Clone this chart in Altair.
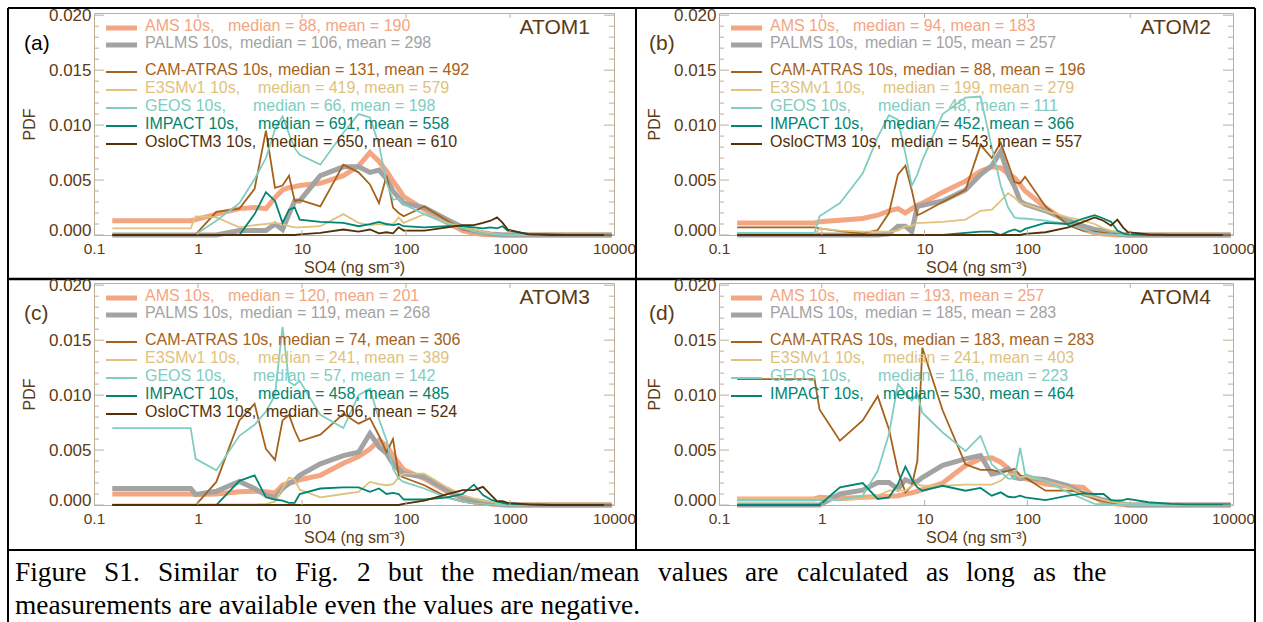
import altair as alt
import pandas as pd

# ---------------- data ----------------
X_BINS = [0.15, 0.25, 0.35, 0.45, 0.55, 0.65, 0.75, 0.85, 0.95,
          1.5, 2.5, 3.5, 4.5, 5.5, 6.5, 7.5, 8.5, 9.5,
          15, 25, 35, 45, 55, 65, 75, 85, 95,
          150, 250, 350, 450, 550, 650, 750, 850, 950,
          1500, 2500, 3500, 4500, 5500, 6500, 7500, 8500, 9500]

# PDF values, in units of 1e-3
ATOM1_AMS = [1.3, 1.3, 1.3, 1.3, 1.3, 1.3, 1.3, 1.3, 1.4,
             1.9, 2.4, 2.5, 2.4, 3.4, 4.1, 4.3, 4.4, 4.5,
             4.7, 5.4, 6.3, 7.5, 6.7, 5.8, 4.9, 4.2, 3.5,
             2.3, 1.1, 0.4, 0.15, 0.05, 0.02, 0, 0, 0,
             0, 0, 0, 0, 0, 0, 0, 0, 0]
ATOM1_PALMS = [0, 0, 0, 0, 0, 0, 0, 0, 0,
               0, 0.4, 0.4, 0.4, 1.0, 0.5, 1.9, 3.1, 3.1,
               5.4, 6.2, 6.2, 5.7, 5.9, 5.1, 4.0, 3.4, 2.9,
               2.5, 1.4, 0.7, 0.35, 0.2, 0.1, 0.05, 0, 0,
               0, 0, 0, 0, 0, 0, 0, 0, 0]
ATOM1_CAM = [0, 0, 0, 0, 0, 0, 0, 0, 0.05,
             2.1, 2.4, 4.2, 9.5, 4.3, 4.5, 5.4, 3.1, 3.2,
             2.6, 6.4, 5.7, 4.6, 2.9, 5.4, 2.5, 2.0, 1.7,
             2.6, 1.3, 0.5, 0.3, 0.2, 0.15, 0.1, 0.05, 0.03,
             0, 0, 0, 0, 0, 0, 0, 0, 0]
ATOM1_E3SM = [0.6, 0.6, 0.6, 0.6, 0.6, 0.6, 0.6, 0.6, 1.7,
              1.6, 0.7, 0.9, 1.0, 1.1, 1.0, 0.8, 0.7, 0.7,
              0.8, 1.9, 1.1, 0.9, 1.0, 0.9, 1.0, 1.6, 1.1,
              1.9, 1.1, 0.7, 0.5, 0.3, 0.2, 0.1, 0.05, 0.03,
              0, 0, 0, 0, 0, 0, 0, 0, 0]
ATOM1_GEOS = [0, 0, 0, 0, 0, 0, 0, 0, 0.05,
              1.3, 2.9, 5.1, 7.0, 9.6, 10.8, 9.2, 7.9, 7.3,
              6.4, 9.3, 11.0, 10.7, 8.2, 4.8, 3.2, 3.3, 2.8,
              1.9, 1.0, 0.6, 0.3, 0.15, 0.1, 0.05, 0.03, 0,
              0, 0, 0, 0, 0, 0, 0, 0, 0]
ATOM1_IMPACT = [0, 0, 0, 0, 0, 0, 0, 0, 0,
                0, 0, 1.9, 3.9, 3.1, 1.1, 2.3, 2.5, 1.4,
                1.2, 1.1, 0.8, 1.0, 1.2, 1.0, 0.9, 1.0, 0.8,
                0.7, 0.8, 0.8, 0.7, 0.6, 0.7, 0.6, 0.8, 0.4,
                0.1, 0.05, 0, 0, 0, 0, 0, 0, 0]
ATOM1_OSLO = [0, 0, 0, 0, 0, 0, 0, 0, 0,
              0, 0, 0, 0, 0, 0, 0, 0, 0.05,
              0.2, 0.5, 0.3, 0.5, 0.15, 0.25, 0.15, 0.7, 0.4,
              0.4, 0.7, 0.9, 0.9, 1.1, 1.3, 1.6, 1.1, 0.5,
              0.05, 0, 0, 0, 0, 0, 0, 0, 0]

ATOM2_AMS = [1.1, 1.1, 1.1, 1.1, 1.1, 1.1, 1.1, 1.1, 1.2,
             1.35, 1.5, 1.8, 2.2, 2.4, 2.0, 2.4, 2.7, 2.9,
             3.9, 4.9, 5.8, 6.2, 6.1, 5.6, 5.2, 4.6, 4.0,
             2.5, 1.1, 0.5, 0.2, 0.1, 0.05, 0, 0, 0,
             0, 0, 0, 0, 0, 0, 0, 0, 0]
ATOM2_PALMS = [0, 0, 0, 0, 0, 0, 0, 0, 0,
               0, 0, 0, 0.1, 0.8, 0.8, 0.3, 2.6, 2.7,
               3.1, 4.1, 5.5, 6.3, 7.6, 5.5, 4.4, 3.1, 2.8,
               2.2, 1.3, 0.8, 0.5, 0.4, 0.2, 0.1, 0.05, 0,
               0, 0, 0, 0, 0, 0, 0, 0, 0]
ATOM2_CAM = [0.7, 0.7, 0.7, 0.7, 0.7, 0.7, 0.7, 0.7, 0.6,
             0.35, 0.15, 0.45, 2.0, 5.5, 6.3, 4.1, 1.8, 2.0,
             3.0, 4.1, 8.2, 7.0, 8.4, 6.5, 4.8, 4.7, 5.3,
             2.6, 0.9, 0.4, 0.3, 0.2, 0.1, 0.05, 0, 0,
             0, 0, 0, 0, 0, 0, 0, 0, 0]
ATOM2_E3SM = [0, 0, 0, 0, 0, 0, 0, 0, 0.6,
              0.4, 0.3, 0.3, 0.3, 0.4, 0.8, 0.8, 1.1, 1.1,
              1.2, 1.4, 2.2, 2.3, 3.1, 3.8, 3.4, 2.9, 2.8,
              2.2, 1.6, 1.3, 1.0, 0.6, 0.4, 0.3, 0.2, 0.1,
              0, 0, 0, 0, 0, 0, 0, 0, 0]
ATOM2_GEOS = [0.2, 0.2, 0.2, 0.2, 0.2, 0.2, 0.2, 0.2, 1.7,
              2.9, 5.6, 8.9, 10.9, 10.5, 7.4, 4.5, 5.5, 6.8,
              11.0, 12.5, 12.6, 8.0, 4.5, 2.5, 1.6, 1.5, 1.5,
              1.3, 1.0, 0.5, 0.2, 0.1, 0.05, 0, 0, 0,
              0, 0, 0, 0, 0, 0, 0, 0, 0]
ATOM2_IMPACT = [0, 0, 0, 0, 0, 0, 0, 0, 0,
                0, 0, 0, 0, 0, 0, 0, 0, 0,
                0, 0.2, 0.3, 0.3, 0.0, 0.3, 0.5, 0.3, 0.55,
                1.1, 1.0, 1.5, 1.8, 1.5, 1.2, 0.4, 0.15, 0.05,
                0, 0, 0, 0, 0, 0, 0, 0, 0]
ATOM2_OSLO = [0, 0, 0, 0, 0, 0, 0, 0, 0,
              0, 0, 0, 0, 0, 0, 0, 0, 0,
              0, 0, 0, 0, 0, 0, 0, 0, 0.1,
              0.25, 0.7, 1.2, 1.6, 1.3, 0.85, 1.4, 0.7, 0.25,
              0.05, 0, 0, 0, 0, 0, 0, 0, 0]

ATOM3_AMS = [1.0, 1.0, 1.0, 1.0, 1.0, 1.0, 1.0, 1.0, 0.95,
             1.0, 1.2, 1.25, 1.2, 1.1, 1.8, 2.0, 2.1, 2.3,
             2.7, 3.8, 4.4, 5.1, 5.9, 5.4, 4.5, 3.8, 3.2,
             2.4, 1.2, 0.6, 0.3, 0.2, 0.1, 0.05, 0, 0,
             0, 0, 0, 0, 0, 0, 0, 0, 0]
ATOM3_PALMS = [1.5, 1.5, 1.5, 1.5, 1.5, 1.5, 1.5, 1.5, 0.95,
               1.25, 2.15, 1.5, 0.9, 0.65, 1.5, 1.95, 2.25, 2.7,
               3.75, 4.5, 4.8, 6.5, 5.3, 4.7, 3.75, 3.2, 2.85,
               2.55, 1.35, 0.7, 0.4, 0.3, 0.15, 0.1, 0.05, 0,
               0, 0, 0, 0, 0, 0, 0, 0, 0]
ATOM3_CAM = [0, 0, 0, 0, 0, 0, 0, 0, 0,
             2.1, 7.7, 9.2, 5.1, 4.1, 7.7, 8.2, 6.8, 5.8,
             6.4, 8.3, 7.4, 7.9, 6.3, 4.8, 6.0, 2.7, 2.5,
             1.8, 0.7, 0.3, 0.15, 0.1, 0.05, 0, 0, 0,
             0, 0, 0, 0, 0, 0, 0, 0, 0]
ATOM3_E3SM = [0.05, 0.05, 0.05, 0.05, 0.05, 0.05, 0.05, 0.05, 0.05,
              0.05, 0.05, 0.05, 0.1, 0.3, 1.5, 2.5, 2.3, 1.4,
              0.7, 1.0, 1.2, 2.1, 1.9, 1.8, 1.9, 2.5, 2.85,
              2.85, 1.6, 0.9, 0.6, 0.4, 0.3, 0.2, 0.1, 0.1,
              0.05, 0, 0, 0, 0, 0, 0, 0, 0]
ATOM3_GEOS = [7.0, 7.0, 7.0, 7.0, 7.0, 7.0, 7.0, 7.0, 4.2,
              3.15, 6.3, 7.3, 8.5, 10.0, 16.2, 11.2, 10.9, 11.3,
              8.2, 7.0, 10.0, 10.6, 7.8, 5.9, 3.3, 2.4, 2.1,
              1.5, 0.65, 0.3, 0.15, 0.1, 0.05, 0, 0, 0,
              0, 0, 0, 0, 0, 0, 0, 0, 0]
ATOM3_IMPACT = [0, 0, 0, 0, 0, 0, 0, 0, 0,
                0, 2.2, 2.7, 0.7, 0.5, 0.4, 0.2, 0.2, 1.0,
                1.5, 1.6, 1.6, 1.2, 1.5, 1.0, 1.1, 1.0, 0.5,
                0.5, 0.7, 1.0, 1.85, 0.9, 0.5, 0.3, 0.2, 0.1,
                0.05, 0, 0, 0, 0, 0, 0, 0, 0]
ATOM3_OSLO = [0, 0, 0, 0, 0, 0, 0, 0, 0,
              0, 0, 0, 0, 0, 0, 0, 0, 0,
              0, 0, 0, 0, 0, 0, 0, 0, 0.1,
              0.4, 1.0, 1.35, 1.35, 1.65, 0.95, 0.35, 0.35, 0.2,
              0.05, 0, 0, 0, 0, 0, 0, 0, 0]

ATOM4_AMS = [0.55, 0.55, 0.55, 0.55, 0.55, 0.55, 0.55, 0.55, 0.7,
             0.6, 0.7, 0.75, 0.8, 0.85, 1.0, 1.1, 1.25, 1.4,
             2.0, 3.6, 4.2, 4.3, 3.9, 3.3, 2.8, 2.5, 2.4,
             1.9, 1.7, 1.6, 0.7, 0.25, 0.15, 0.1, 0.05, 0,
             0, 0, 0, 0, 0, 0, 0, 0, 0]
ATOM4_PALMS = [0, 0, 0, 0, 0, 0, 0, 0, 0,
               1.0, 1.35, 2.05, 2.05, 1.45, 2.3, 2.05, 2.15, 2.5,
               3.6, 4.2, 4.5, 2.8, 3.0, 3.3, 2.5, 2.4, 2.5,
               2.3, 1.75, 1.0, 0.7, 0.45, 0.3, 0.2, 0.1, 0,
               0, 0, 0, 0, 0, 0, 0, 0, 0]
ATOM4_CAM = [11.45, 11.45, 11.45, 11.45, 11.45, 11.45, 11.45, 11.45, 8.7,
             5.85, 7.7, 9.9, 6.9, 3.1, 1.15, 1.75, 4.0, 14.3,
             8.6, 3.7, 3.2, 3.2, 3.0, 3.1, 3.3, 2.7, 2.5,
             1.3, 1.3, 1.15, 0.55, 0.35, 0.25, 0.15, 0.1, 0.05,
             0, 0, 0, 0, 0, 0, 0, 0, 0]
ATOM4_E3SM = [0.65, 0.65, 0.65, 0.65, 0.65, 0.65, 0.65, 0.65, 0.6,
              0.45, 0.55, 0.85, 1.3, 1.35, 1.3, 1.75, 1.9, 1.75,
              1.75, 1.85, 1.85, 1.85, 2.2, 2.8, 2.8, 2.5, 2.6,
              2.2, 1.6, 1.0, 0.7, 0.45, 0.3, 0.2, 0.15, 0.1,
              0.05, 0, 0, 0, 0, 0, 0, 0, 0]
ATOM4_GEOS = [0.45, 0.45, 0.45, 0.45, 0.45, 0.45, 0.45, 0.45, 0.45,
              0.45, 0.85, 3.1, 6.45, 11.0, 10.2, 9.5, 10.1, 8.4,
              6.6, 4.9, 6.3, 3.7, 3.0, 2.4, 2.4, 5.2, 2.8,
              2.2, 1.15, 0.55, 0.1, 0.05, 0, 0, 0, 0,
              0, 0, 0, 0, 0, 0, 0, 0, 0]
ATOM4_IMPACT = [0, 0, 0, 0, 0, 0, 0, 0, 0,
                1.6, 2.0, 0.55, 0.7, 1.9, 3.5, 2.35, 1.6, 1.3,
                1.75, 1.3, 1.55, 0.85, 1.15, 0.75, 0.7, 0.85, 0.7,
                0.45, 0.85, 1.05, 1.0, 1.0, 0.45, 0.4, 0.45, 0.55,
                0.25, 0.1, 0.05, 0.05, 0.05, 0.05, 0.05, 0.05, 0.05]

ATOM1_MEDIAN = [88, 106, 131, 419, 66, 691, 650]
ATOM1_MEAN = [190, 298, 492, 579, 198, 558, 610]
ATOM2_MEDIAN = [94, 105, 88, 199, 48, 452, 543]
ATOM2_MEAN = [183, 257, 196, 279, 111, 366, 557]
ATOM3_MEDIAN = [120, 119, 74, 241, 57, 458, 506]
ATOM3_MEAN = [201, 268, 306, 389, 142, 485, 524]
ATOM4_MEDIAN = [193, 185, 183, 241, 116, 530]
ATOM4_MEAN = [257, 283, 283, 403, 223, 464]

SERIES = ["AMS", "PALMS", "CAM-ATRAS", "E3SMv1", "GEOS", "IMPACT", "OsloCTM3"]
LEGEND_NAMES = ["AMS 10s,", "PALMS 10s,", "CAM-ATRAS 10s,", "E3SMv1 10s,",
                "GEOS 10s,", "IMPACT 10s,", "OsloCTM3 10s,"]

X_LABELS = [0.1, 1, 10, 100, 1000, 10000]
X_TICKS = [1, 10, 100, 1000]
Y_MAJOR = [0.0, 0.005, 0.010, 0.015, 0.020]
Y_MINOR = [0.001, 0.002, 0.003, 0.004, 0.006, 0.007, 0.008, 0.009,
           0.011, 0.012, 0.013, 0.014, 0.016, 0.017, 0.018, 0.019]

CAPTION_1_WORDS = ["Figure", "S1.", "Similar", "to", "Fig.", "2", "but", "the", "median/mean",
                   "values", "are", "calculated", "as", "long", "as", "the"]
CAPTION_2 = "measurements are available even the values are negative."

# ---------------- style ----------------
SERIES_COLORS = ["#f4a582", "#a3a3a3", "#a6611a", "#dfc27d", "#80cdc1", "#018571", "#543005"]
FRAME = "#bfae96"
BROWN = "#5b3a14"
FONT = "Liberation Sans"
SERIF = "Liberation Serif"
H = 222
LEG_LINE_Y = [15, 32, 59, 77, 95, 113, 131]
LEG_STATS_X = [134, 146, 184, 164, 159, 164, 172]
# justified first caption line: word start positions (page x)
CAPTION_1_X = [15, 104, 158, 256, 295, 357, 388, 441, 492, 658, 745, 797, 926, 966, 1033, 1073]

PANELS = [
    dict(name="ATOM1", letter="(a)", letter_color="#000000", width=520, left=94,
         values=[ATOM1_AMS, ATOM1_PALMS, ATOM1_CAM, ATOM1_E3SM, ATOM1_GEOS, ATOM1_IMPACT, ATOM1_OSLO],
         median=ATOM1_MEDIAN, mean=ATOM1_MEAN, atom_x=496,
         borders=[(-86, -5, 542, -5, 2), (-86, -5, -86, 266, 2), (542, -5, 542, 266, 2),
                  (-86, 266, 542, 266, 2.5)]),
    dict(name="ATOM2", letter="(b)", letter_color=BROWN, width=514, left=719,
         values=[ATOM2_AMS, ATOM2_PALMS, ATOM2_CAM, ATOM2_E3SM, ATOM2_GEOS, ATOM2_IMPACT, ATOM2_OSLO],
         median=ATOM2_MEDIAN, mean=ATOM2_MEAN, atom_x=492,
         borders=[(-83, -5, 536, -5, 2), (536, -5, 536, 266, 2), (-83, 266, 536, 266, 2.5)]),
    dict(name="ATOM3", letter="(c)", letter_color=BROWN, width=520, left=94,
         values=[ATOM3_AMS, ATOM3_PALMS, ATOM3_CAM, ATOM3_E3SM, ATOM3_GEOS, ATOM3_IMPACT, ATOM3_OSLO],
         median=ATOM3_MEDIAN, mean=ATOM3_MEAN, atom_x=496,
         borders=[(-86, -4, -86, 345, 2), (542, -4, 542, 267, 2), (-86, 267, 1161, 267, 2),
                  (1161, 267, 1161, 345, 2)],
         caption=True),
    dict(name="ATOM4", letter="(d)", letter_color=BROWN, width=514, left=719,
         values=[ATOM4_AMS, ATOM4_PALMS, ATOM4_CAM, ATOM4_E3SM, ATOM4_GEOS, ATOM4_IMPACT],
         median=ATOM4_MEDIAN, mean=ATOM4_MEAN, atom_x=492,
         borders=[(536, -4, 536, 267, 2)]),
]

ONE = pd.DataFrame({"k": [0]})


def build_panel(p):
    W = p["width"]
    n = len(p["values"])
    rows = []
    for s, vals in zip(SERIES[:n], p["values"]):
        for xv, v in zip(X_BINS, vals):
            rows.append({"x": xv, "y": v / 1000.0, "series": s})
    df = pd.DataFrame(rows)

    xs = alt.Scale(type="log", domain=[0.1, 10000], nice=False)
    ys = alt.Scale(domain=[0, 0.0202], nice=False, zero=False)
    cs = alt.Scale(domain=SERIES, range=SERIES_COLORS)

    x_axis = alt.Axis(values=X_LABELS, format="~g", title="SO4 (ng sm⁻³)", ticks=False,
                      domain=False, grid=False, labelFlush=False, labelPadding=6,
                      titlePadding=3, labelFontSize=15.5, titleFontSize=16, labelOverlap=False)
    y_axis = alt.Axis(values=Y_MAJOR, format=".3f", title="PDF", ticks=False, domain=False,
                      grid=False, labelPadding=3, titlePadding=11, labelFontSize=17,
                      titleFontSize=16, labelOverlap=False,
                      labelOffset={"condition": {"test": "datum.value === 0", "value": -5},
                                   "value": 0})
    X_ENC = alt.X("x:Q", scale=xs, axis=x_axis)
    Y_ENC = alt.Y("y:Q", scale=ys, axis=y_axis)
    color = alt.Color("series:N", scale=cs, legend=None)

    layers = []
    thick = alt.Chart(df).transform_filter(
        alt.FieldOneOfPredicate(field="series", oneOf=SERIES[:2])
    ).mark_line(strokeWidth=5).encode(x=X_ENC, y=Y_ENC, color=color)
    thin = alt.Chart(df).transform_filter(
        alt.FieldOneOfPredicate(field="series", oneOf=SERIES[2:n])
    ).mark_line(strokeWidth=1.8).encode(x=X_ENC, y=Y_ENC, color=color)
    layers += [thick, thin]

    # inward ticks on all four sides
    def yticks(vals, x1, x2):
        return alt.Chart(pd.DataFrame({"y": vals})).mark_rule(color=FRAME, strokeWidth=1).encode(
            y=Y_ENC, x=alt.value(x1), x2=alt.value(x2))

    def xticks(vals, y1, y2):
        return alt.Chart(pd.DataFrame({"x": vals})).mark_rule(color=FRAME, strokeWidth=1).encode(
            x=X_ENC, y=alt.value(y1), y2=alt.value(y2))

    layers += [yticks(Y_MAJOR, 0, 10), yticks(Y_MINOR, 0, 5),
               yticks(Y_MAJOR, W, W - 10), yticks(Y_MINOR, W, W - 5),
               xticks(X_TICKS, 0, 5), xticks(X_TICKS, H, H - 5)]

    # legend
    for i in range(n):
        ly = LEG_LINE_Y[i]
        sw = 5 if i < 2 else 2
        layers.append(alt.Chart(ONE).mark_rule(color=SERIES_COLORS[i], strokeWidth=sw).encode(
            x=alt.value(12), x2=alt.value(43), y=alt.value(ly)))
        layers.append(alt.Chart(ONE).mark_text(
            text=LEGEND_NAMES[i], align="left", baseline="middle", font=FONT, fontSize=16,
            color=SERIES_COLORS[i]).encode(x=alt.value(51), y=alt.value(ly - 2)))
        layers.append(alt.Chart(ONE).mark_text(
            text=f"median = {p['median'][i]}, mean = {p['mean'][i]}", align="left",
            baseline="middle", font=FONT, fontSize=16, color=SERIES_COLORS[i]).encode(
            x=alt.value(LEG_STATS_X[i]), y=alt.value(ly - 2)))

    layers.append(alt.Chart(ONE).mark_text(
        text=p["name"], align="right", baseline="middle", font=FONT, fontSize=21,
        color=BROWN).encode(x=alt.value(p["atom_x"]), y=alt.value(15)))
    layers.append(alt.Chart(ONE).mark_text(
        text=p["letter"], align="left", baseline="middle", font=FONT, fontSize=21,
        color=p["letter_color"]).encode(x=alt.value(-70), y=alt.value(31)))

    if p.get("caption"):
        for word, wx in zip(CAPTION_1_WORDS, CAPTION_1_X):
            layers.append(alt.Chart(ONE).mark_text(
                text=word, align="left", baseline="alphabetic", font=SERIF, fontSize=27.4,
                color="#000000").encode(x=alt.value(wx - p["left"]), y=alt.value(298)))
        layers.append(alt.Chart(ONE).mark_text(
            text=CAPTION_2, align="left", baseline="alphabetic", font=SERIF, fontSize=27.4,
            color="#000000").encode(x=alt.value(15 - p["left"]), y=alt.value(331)))

    for (x1, y1, x2, y2, w) in p["borders"]:
        layers.append(alt.Chart(ONE).mark_rule(color="#000000", strokeWidth=w).encode(
            x=alt.value(x1), y=alt.value(y1), x2=alt.value(x2), y2=alt.value(y2)))

    return alt.layer(*layers).properties(width=W, height=H)


panels = [build_panel(p) for p in PANELS]

chart = alt.concat(
    *panels, columns=2, spacing={"row": 48, "column": 105}, bounds="flush",
    padding={"left": 6, "top": 5, "right": 0, "bottom": 0},
).configure_view(stroke=FRAME, strokeWidth=1).configure_axis(
    labelFont=FONT, titleFont=FONT, labelColor=BROWN, titleColor=BROWN,
    titleFontWeight="normal",
)

chart.save("out.html", embed_options={"renderer": "svg", "actions": False})
